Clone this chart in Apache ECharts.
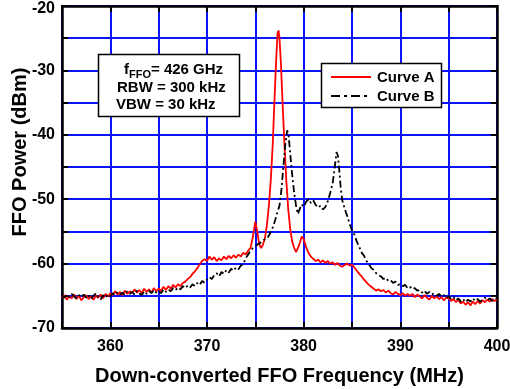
<!DOCTYPE html>
<html>
<head>
<meta charset="utf-8">
<script src="https://cdn.jsdelivr.net/npm/echarts@6/dist/echarts.min.js"></script>
<style>
  html, body { margin: 0; padding: 0; background: #fff; }
  #chart { width: 510px; height: 389px; }
</style>
</head>
<body>
<div id="chart"></div>
<script>
// Curve A (red, solid): frequency in MHz, power in dBm
let freqA = [
  355.0, 355.25, 355.5, 355.75, 356.0, 356.25, 356.5, 356.75, 357.0, 357.25, 357.5, 357.75,
  358.0, 358.25, 358.5, 358.75, 359.0, 359.25, 359.5, 359.75, 360.0, 360.25, 360.5, 360.75,
  361.0, 361.25, 361.5, 361.75, 362.0, 362.25, 362.5, 362.75, 363.0, 363.25, 363.5, 363.75,
  364.0, 364.25, 364.5, 364.75, 365.0, 365.25, 365.5, 365.75, 366.0, 366.25, 366.5, 366.75,
  367.0, 367.25, 367.5, 367.75, 368.0, 368.25, 368.5, 368.75, 369.0, 369.25, 369.5, 369.75,
  370.0, 370.25, 370.5, 370.75, 371.0, 371.25, 371.5, 371.75, 372.0, 372.25, 372.5, 372.75,
  373.0, 373.25, 373.5, 373.75, 374.0, 374.25, 374.5, 374.75, 375.0, 375.2, 375.4, 375.6,
  375.8, 376.0, 376.2, 376.4, 376.6, 376.8, 377.0, 377.15, 377.3, 377.4, 377.5, 377.65,
  377.8, 378.0, 378.2, 378.4, 378.6, 378.8, 379.0, 379.2, 379.4, 379.6, 379.8, 380.0,
  380.2, 380.4, 380.6, 380.8, 381.0, 381.25, 381.5, 381.75, 382.0, 382.25, 382.5, 382.75,
  383.0, 383.25, 383.5, 383.75, 384.0, 384.25, 384.5, 384.75, 385.0, 385.25, 385.5, 385.75,
  386.0, 386.25, 386.5, 386.75, 387.0, 387.25, 387.5, 387.75, 388.0, 388.25, 388.5, 388.75,
  389.0, 389.25, 389.5, 389.75, 390.0, 390.25, 390.5, 390.75, 391.0, 391.25, 391.5, 391.75,
  392.0, 392.25, 392.5, 392.75, 393.0, 393.25, 393.5, 393.75, 394.0, 394.25, 394.5, 394.75,
  395.0, 395.25, 395.5, 395.75, 396.0, 396.25, 396.5, 396.75, 397.0, 397.25, 397.5, 397.75,
  398.0, 398.25, 398.5, 398.75, 399.0, 399.25, 399.5, 399.75, 400.0
];
let powerA = [
  -65.3, -64.9, -65.6, -65.1, -65.4, -64.8, -65.5, -65.0, -65.7, -65.2, -64.9, -65.5,
  -65.1, -65.6, -65.0, -65.3, -64.8, -65.4, -64.7, -65.1, -64.6, -64.9, -64.3, -64.8,
  -64.4, -64.9, -64.2, -64.7, -64.3, -64.6, -64.0, -64.5, -64.1, -64.6, -63.9, -64.4,
  -64.0, -64.5, -63.8, -64.3, -63.9, -64.2, -63.6, -64.1, -63.5, -63.9, -63.3, -63.7,
  -63.2, -63.5, -63.0, -62.8, -62.4, -62.1, -61.6, -61.2, -60.7, -60.1, -59.6, -59.3,
  -59.6, -58.9, -59.4, -59.0, -59.6, -59.2, -59.5, -58.9, -59.3, -58.8, -59.2, -58.7,
  -59.1, -58.6, -58.9, -58.3, -58.6, -58.0, -57.6, -55.8, -53.5, -55.0, -57.0, -57.6,
  -57.0, -56.0, -54.0, -51.0, -47.0, -41.5, -34.0, -28.5, -24.2, -23.8, -25.0, -29.0,
  -34.5, -41.0, -47.0, -51.5, -54.5, -56.5, -57.5, -58.2, -57.6, -56.8, -55.8, -56.2,
  -57.2, -58.0, -58.6, -59.0, -59.3, -59.6, -59.4, -59.8, -59.5, -59.9, -59.6, -60.0,
  -59.8, -60.2, -59.9, -60.3, -60.5, -60.2, -60.0, -60.3, -60.2, -60.6, -61.1, -61.6,
  -62.0, -62.5, -62.9, -63.3, -63.6, -63.9, -64.2, -64.0, -64.3, -64.1, -64.5, -64.2,
  -64.6, -64.8, -64.4, -64.7, -64.9, -64.6, -65.0, -64.7, -65.0, -64.7, -65.2, -64.8,
  -65.1, -65.4, -64.9, -65.3, -65.6, -65.0, -65.4, -65.1, -65.5, -65.2, -65.7, -65.3,
  -65.4, -65.8, -65.5, -66.0, -65.6, -66.2, -65.9, -66.4, -66.0, -66.5, -65.9, -66.3,
  -65.8, -66.2, -65.7, -66.0, -65.6, -65.9, -65.5, -65.8, -65.6
];

// Curve B (black, dash-dot)
let freqB = [
  355.0, 355.25, 355.5, 355.75, 356.0, 356.25, 356.5, 356.75, 357.0, 357.25, 357.5, 357.75,
  358.0, 358.25, 358.5, 358.75, 359.0, 359.25, 359.5, 359.75, 360.0, 360.25, 360.5, 360.75,
  361.0, 361.25, 361.5, 361.75, 362.0, 362.25, 362.5, 362.75, 363.0, 363.25, 363.5, 363.75,
  364.0, 364.25, 364.5, 364.75, 365.0, 365.25, 365.5, 365.75, 366.0, 366.25, 366.5, 366.75,
  367.0, 367.25, 367.5, 367.75, 368.0, 368.25, 368.5, 368.75, 369.0, 369.25, 369.5, 369.75,
  370.0, 370.25, 370.5, 370.75, 371.0, 371.25, 371.5, 371.75, 372.0, 372.25, 372.5, 372.75,
  373.0, 373.25, 373.5, 373.75, 374.0, 374.25, 374.5, 374.75, 375.0, 375.25, 375.5, 375.75,
  376.0, 376.25, 376.5, 376.75, 377.0, 377.25, 377.5, 377.7, 377.9, 378.1, 378.3, 378.45,
  378.6, 378.8, 379.0, 379.2, 379.4, 379.6, 379.8, 380.0, 380.25, 380.5, 380.75, 381.0,
  381.25, 381.5, 381.75, 382.0, 382.25, 382.5, 382.75, 383.0, 383.2, 383.4, 383.55, 383.7,
  383.85, 384.0, 384.25, 384.5, 384.75, 385.0, 385.25, 385.5, 385.75, 386.0, 386.25, 386.5,
  386.75, 387.0, 387.25, 387.5, 387.75, 388.0, 388.25, 388.5, 388.75, 389.0, 389.25, 389.5,
  389.75, 390.0, 390.25, 390.5, 390.75, 391.0, 391.25, 391.5, 391.75, 392.0, 392.25, 392.5,
  392.75, 393.0, 393.25, 393.5, 393.75, 394.0, 394.25, 394.5, 394.75, 395.0, 395.25, 395.5,
  395.75, 396.0, 396.25, 396.5, 396.75, 397.0, 397.25, 397.5, 397.75, 398.0, 398.25, 398.5,
  398.75, 399.0, 399.25, 399.5, 399.75, 400.0
];
let powerB = [
  -64.9, -65.3, -64.8, -65.2, -64.7, -65.1, -65.4, -64.9, -65.2, -64.8, -65.3, -64.9,
  -65.5, -65.0, -64.6, -65.2, -65.6, -64.9, -65.3, -64.8, -65.1, -64.6, -64.9, -64.4,
  -64.8, -64.5, -64.9, -64.3, -64.7, -64.4, -64.8, -64.2, -64.6, -64.9, -64.3, -64.7,
  -64.2, -64.6, -64.1, -64.5, -64.2, -64.6, -64.0, -64.4, -64.0, -64.3, -63.8, -64.1,
  -63.7, -64.0, -63.5, -63.8, -63.4, -63.7, -63.2, -63.5, -63.0, -63.3, -62.7, -63.0,
  -62.5, -62.1, -62.4, -61.8, -61.5, -62.0, -61.3, -61.6, -61.0, -61.4, -60.8, -61.1,
  -60.6, -60.9, -60.3, -60.1, -59.2, -58.6, -58.0, -57.6, -57.3, -57.0, -56.8, -56.5,
  -56.2, -56.0, -55.4, -54.6, -53.5, -52.2, -51.0, -48.5, -45.0, -41.5, -39.3, -40.2,
  -42.8, -46.0, -48.8, -50.9, -52.3, -51.5, -50.8, -51.2, -50.4, -50.0, -50.6, -50.2,
  -50.9, -51.3, -51.0, -51.6, -51.2, -50.3, -49.0, -47.5, -45.2, -42.7, -43.3, -45.8,
  -48.5, -50.2, -51.5, -52.6, -53.8, -54.8, -55.5, -56.6, -57.4, -58.3, -58.8, -59.6,
  -60.1, -60.7, -61.0, -61.5, -61.8, -62.0, -62.4, -62.2, -62.7, -62.6, -63.0, -62.8,
  -63.3, -63.2, -63.5, -63.3, -63.8, -63.6, -64.0, -63.8, -64.2, -64.1, -64.5, -64.2,
  -64.7, -64.4, -64.8, -64.6, -65.0, -64.7, -65.1, -64.9, -65.4, -65.0, -65.5, -65.2,
  -65.7, -65.4, -65.9, -65.5, -66.0, -65.6, -65.9, -65.4, -65.8, -65.5, -65.9, -65.6,
  -65.3, -65.7, -65.4, -65.8, -65.5, -65.4
];

let seriesNames = ['Curve A', 'Curve B'];
let infoLines = ['{f|f}{sub|FFO}{f|= 426 GHz}', 'RBW = 300 kHz', 'VBW = 30 kHz'];

let chart = echarts.init(document.getElementById('chart'));
let font = 'Liberation Sans, Arial, sans-serif';
let boldFont = 'bold 15px Liberation Sans, Arial, sans-serif';
let dashDot = [7, 3, 2, 3];

function pairs(xs, ys) {
  return xs.map(function (x, i) { return [x, ys[i]]; });
}
function tenLabel(v) {
  return v % 10 === 0 ? String(v) : '';
}
function yLabel(v) {
  if (v % 10 !== 0) return '';
  return v === -20 ? '{top|' + v + '}' : '{n|' + v + '}';
}

let axisLine = { show: true, onZero: false, lineStyle: { color: '#000', width: 2.5 } };
let axisTick = { show: true, inside: true, length: 6, lineStyle: { color: '#000', width: 2 } };
let blueGrid = { show: true, lineStyle: { color: '#0a14ff', width: 2 } };
let labelText = { fontFamily: font, fontWeight: 'bold', fontSize: 16, color: '#000' };

let option = {
  backgroundColor: '#fff',
  animation: false,
  grid: { left: 62, right: 13, top: 6, bottom: 61, outerBoundsMode: 'none' },
  xAxis: [
    {
      type: 'value', min: 355, max: 400, interval: 5,
      axisLine: axisLine, axisTick: axisTick, splitLine: blueGrid,
      axisLabel: Object.assign({ formatter: tenLabel, margin: 11 }, labelText),
      name: 'Down-converted FFO Frequency (MHz)',
      nameLocation: 'middle',
      nameGap: 38,
      nameTextStyle: { fontFamily: font, fontWeight: 'bold', fontSize: 20, color: '#000' }
    },
    {
      type: 'value', min: 355, max: 400, interval: 5, position: 'top',
      axisLine: axisLine, axisTick: axisTick, splitLine: { show: false },
      axisLabel: { show: false }
    }
  ],
  yAxis: [
    {
      type: 'value', min: -70, max: -20, interval: 5,
      axisLine: axisLine, axisTick: axisTick, splitLine: blueGrid,
      axisLabel: Object.assign({
        formatter: yLabel, margin: 7,
        rich: { n: labelText, top: Object.assign({ padding: [6, 0, 0, 0] }, labelText) }
      }, labelText)
    },
    {
      type: 'value', min: -70, max: -20, interval: 5, position: 'right',
      axisLine: axisLine, axisTick: axisTick, splitLine: { show: false },
      axisLabel: { show: false }
    }
  ],
  graphic: [
    {
      type: 'text', x: 20, y: 152, rotation: Math.PI / 2,
      style: {
        text: 'FFO Power (dBm)', fill: '#000', align: 'center', verticalAlign: 'middle',
        font: 'bold 20px Liberation Sans, Arial, sans-serif'
      }
    },
    // parameter box
    {
      type: 'rect', shape: { x: 98.5, y: 54.5, width: 141, height: 62 },
      style: { fill: '#fff', stroke: '#000', lineWidth: 1.5 }, z: 100
    },
    {
      type: 'text', x: 124, y: 70, z: 101,
      style: {
        text: infoLines[0], verticalAlign: 'middle',
        rich: {
          f: { fontFamily: font, fontWeight: 'bold', fontSize: 15, fill: '#000' },
          sub: { fontFamily: font, fontWeight: 'bold', fontSize: 11, fill: '#000', padding: [9, 0, 0, 0] }
        }
      }
    },
    { type: 'text', x: 117, y: 88, z: 101, style: { text: infoLines[1], verticalAlign: 'middle', fill: '#000', font: boldFont } },
    { type: 'text', x: 116, y: 105, z: 101, style: { text: infoLines[2], verticalAlign: 'middle', fill: '#000', font: boldFont } },
    // legend box
    {
      type: 'rect', shape: { x: 321.5, y: 63.5, width: 120, height: 44 },
      style: { fill: '#fff', stroke: '#000', lineWidth: 1.5 }, z: 100
    },
    { type: 'line', z: 101, shape: { x1: 331, y1: 77, x2: 371, y2: 77 }, style: { stroke: '#ff0000', lineWidth: 2 } },
    { type: 'line', z: 101, shape: { x1: 331, y1: 96, x2: 371, y2: 96 }, style: { stroke: '#000', lineWidth: 2, lineDash: [9, 4, 3, 4] } },
    { type: 'text', x: 377, y: 78, z: 101, style: { text: seriesNames[0], verticalAlign: 'middle', fill: '#000', font: boldFont } },
    { type: 'text', x: 377, y: 97, z: 101, style: { text: seriesNames[1], verticalAlign: 'middle', fill: '#000', font: boldFont } }
  ],
  series: [
    {
      name: seriesNames[0], type: 'line', data: pairs(freqA, powerA),
      symbol: 'none', z: 3,
      lineStyle: { color: '#ff0000', width: 1.8 }
    },
    {
      name: seriesNames[1], type: 'line', data: pairs(freqB, powerB),
      symbol: 'none', z: 4,
      lineStyle: { color: '#000', width: 1.8, type: dashDot }
    }
  ]
};

chart.setOption(option);
</script>
</body>
</html>
